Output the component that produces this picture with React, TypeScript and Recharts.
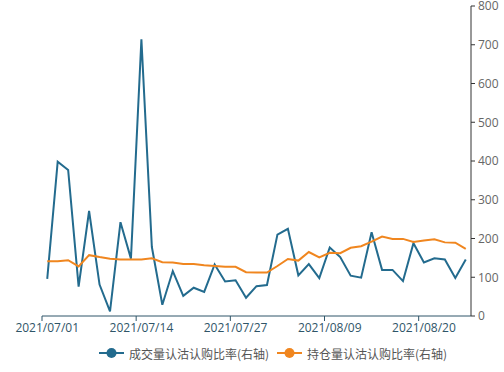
import { LineChart, Line, XAxis, YAxis, Legend } from "recharts";

const dates = [
  "2021/07/01", "2021/07/02", "2021/07/05", "2021/07/06", "2021/07/07", "2021/07/08", "2021/07/09",
  "2021/07/12", "2021/07/13", "2021/07/14", "2021/07/15", "2021/07/16", "2021/07/19", "2021/07/20",
  "2021/07/21", "2021/07/22", "2021/07/23", "2021/07/26", "2021/07/27", "2021/07/28", "2021/07/29",
  "2021/07/30", "2021/08/02", "2021/08/03", "2021/08/04", "2021/08/05", "2021/08/06", "2021/08/09",
  "2021/08/10", "2021/08/11", "2021/08/12", "2021/08/13", "2021/08/16", "2021/08/17", "2021/08/18",
  "2021/08/19", "2021/08/20", "2021/08/23", "2021/08/24", "2021/08/25", "2021/08/26"
];

// 成交量认沽认购比率
const volumeRatio = [
  96, 398, 377, 76, 271, 81, 12, 242, 148, 714, 178, 29, 116, 52, 73, 62, 133, 89, 92, 47, 77,
  80, 210, 225, 105, 134, 98, 177, 152, 104, 99, 216, 119, 119, 90, 188, 138, 149, 146, 98, 146
];

// 持仓量认沽认购比率
const positionRatio = [
  141, 141, 144, 128, 157, 152, 148, 146, 146, 146, 149, 139, 138, 134, 134, 131, 129, 127, 127, 113, 112,
  112, 129, 147, 143, 165, 151, 163, 162, 176, 180, 192, 205, 199, 199, 191, 195, 198, 190, 189, 173
];

const rightTicks = [0, 100, 200, 300, 400, 500, 600, 700, 800];

const series = [
  { key: "volume", name: "成交量认沽认购比率(右轴)", color: "#236b8e" },
  { key: "position", name: "持仓量认沽认购比率(右轴)", color: "#f0861f" }
];

const data = dates.map((d, i) => ({
  date: d,
  volume: volumeRatio[i],
  position: positionRatio[i]
}));

const W = 504;
const H = 372;
const M = { top: 6, right: 0, left: 42, bottom: 0 };
const RIGHT_W = 33;
// echarts-style category bands: points sit in the middle of each band
const BAND = (W - M.left - RIGHT_W) / dates.length;
const AXIS_COLOR = "#2f5568";
const FONT = "'Open Sans', 'Noto Sans CJK SC', sans-serif";

function DateTick(props: any) {
  const { x, y, payload } = props;
  const lx = x - BAND / 2;
  return (
    <g>
      <line x1={lx} x2={lx} y1={y - 7} y2={y - 2} stroke={AXIS_COLOR} />
      <text x={x} y={y} dy="0.71em" textAnchor="middle" fill={AXIS_COLOR} fontSize={12} fontFamily={FONT}>
        {payload.value}
      </text>
    </g>
  );
}

function LegendContent() {
  return (
    <div
      style={{
        display: "flex",
        justifyContent: "center",
        alignItems: "center",
        height: 24,
        fontFamily: "'Noto Sans CJK SC', sans-serif",
        fontSize: 12,
        color: "#555"
      }}
    >
      {series.map((s) => (
        <div key={s.key} style={{ display: "flex", alignItems: "center", margin: "0 4px" }}>
          <svg width={25} height={12} style={{ marginRight: 5 }}>
            <line x1={0} x2={25} y1={6} y2={6} stroke={s.color} strokeWidth={2} />
            <circle cx={12.5} cy={6} r={5} fill={s.color} />
          </svg>
          <span>{s.name}</span>
        </div>
      ))}
    </div>
  );
}

export default function App() {
  return (
    <div style={{ position: "absolute", left: 0, top: 0, width: W, height: H, background: "#fff" }}>
      <LineChart width={W} height={H} data={data} margin={M}>
        <XAxis
          dataKey="date"
          interval={8}
          padding={{ left: BAND / 2, right: BAND / 2 }}
          tickLine={false}
          tickSize={5}
          tickMargin={2}
          height={25}
          axisLine={{ stroke: AXIS_COLOR }}
          tick={<DateTick />}
        />
        <YAxis
          yAxisId="left"
          orientation="left"
          width={0}
          domain={[0, 800]}
          tick={false}
          tickLine={false}
          axisLine={{ stroke: "#333" }}
        />
        <YAxis
          yAxisId="right"
          orientation="right"
          width={RIGHT_W}
          domain={[0, 800]}
          ticks={rightTicks}
          interval={0}
          tickSize={4}
          tickMargin={3}
          axisLine={{ stroke: "#333" }}
          tickLine={{ stroke: "#333" }}
          tick={{ fill: "#666", fontSize: 12, fontFamily: FONT, textAnchor: "start" }}
        />
        <Legend verticalAlign="bottom" height={31} content={<LegendContent />} />
        {series.map((s) => (
          <Line
            key={s.key}
            yAxisId="right"
            type="linear"
            dataKey={s.key}
            name={s.name}
            stroke={s.color}
            strokeWidth={2}
            dot={false}
            activeDot={false}
            isAnimationActive={false}
          />
        ))}
      </LineChart>
    </div>
  );
}
